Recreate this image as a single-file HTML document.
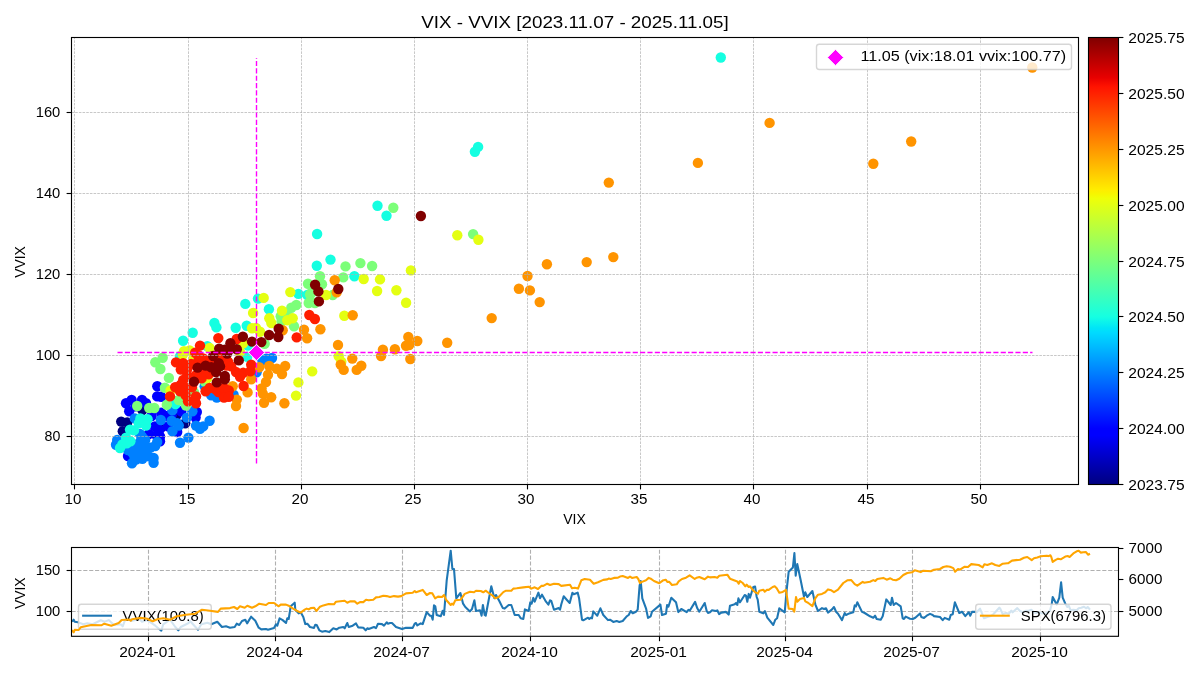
<!DOCTYPE html>
<html><head><meta charset="utf-8"><title>VIX - VVIX</title>
<style>html,body{margin:0;padding:0;background:#fff;overflow:hidden}svg{display:block;will-change:transform}text{font-family:"Liberation Sans", sans-serif;white-space:pre}</style>
</head><body>
<svg width="1200" height="675" viewBox="0 0 1200 675">
<rect width="1200" height="675" fill="#fff"/>
<defs><linearGradient id="jet" x1="0" y1="1" x2="0" y2="0">
<stop offset="0" stop-color="#000080"/>
<stop offset="0.11" stop-color="#0000ff"/>
<stop offset="0.125" stop-color="#0000ff"/>
<stop offset="0.34" stop-color="#00dbff"/>
<stop offset="0.35" stop-color="#00e5f7"/>
<stop offset="0.375" stop-color="#15ffe2"/>
<stop offset="0.64" stop-color="#efff08"/>
<stop offset="0.65" stop-color="#f7f600"/>
<stop offset="0.66" stop-color="#ffec00"/>
<stop offset="0.89" stop-color="#ff1300"/>
<stop offset="0.91" stop-color="#e80000"/>
<stop offset="1.0" stop-color="#800000"/>
</linearGradient>
<clipPath id="cm"><rect x="71.5" y="37.5" width="1007.0" height="447.0"/></clipPath>
<clipPath id="cb"><rect x="71.5" y="547.5" width="1047.0" height="88.79999999999995"/></clipPath>
</defs>
<g clip-path="url(#cm)">
<g fill="#000080">
<circle cx="121.2" cy="421.6" r="5.2"/><circle cx="127.2" cy="422.4" r="5.2"/><circle cx="122.8" cy="431.2" r="5.2"/><circle cx="185.2" cy="423.2" r="5.2"/><circle cx="161.2" cy="427.2" r="5.2"/><circle cx="176.4" cy="415.2" r="5.2"/><circle cx="142.4" cy="410.0" r="5.2"/>
</g>
<g fill="#0000ff">
<circle cx="157.3" cy="386.3" r="5.2"/><circle cx="126.0" cy="403.2" r="5.2"/><circle cx="131.6" cy="400.0" r="5.2"/><circle cx="142.0" cy="400.0" r="5.2"/><circle cx="146.0" cy="403.2" r="5.2"/><circle cx="129.2" cy="411.2" r="5.2"/><circle cx="157.2" cy="396.4" r="5.2"/><circle cx="161.2" cy="396.8" r="5.2"/><circle cx="161.2" cy="412.8" r="5.2"/><circle cx="166.0" cy="416.0" r="5.2"/><circle cx="181.2" cy="411.2" r="5.2"/><circle cx="196.8" cy="412.0" r="5.2"/><circle cx="195.6" cy="417.6" r="5.2"/><circle cx="154.8" cy="426.4" r="5.2"/><circle cx="159.6" cy="429.6" r="5.2"/><circle cx="156.4" cy="435.2" r="5.2"/><circle cx="177.2" cy="432.0" r="5.2"/><circle cx="171.6" cy="415.2" r="5.2"/><circle cx="135.6" cy="406.4" r="5.2"/><circle cx="151.6" cy="416.0" r="5.2"/><circle cx="168.0" cy="426.4" r="5.2"/><circle cx="160.0" cy="441.2" r="5.2"/><circle cx="128.0" cy="456.0" r="5.2"/><circle cx="160.0" cy="436.4" r="5.2"/><circle cx="148.8" cy="434.0" r="5.2"/>
</g>
<g fill="#0080ff">
<circle cx="204.7" cy="386.3" r="5.2"/><circle cx="172.4" cy="410.4" r="5.2"/><circle cx="192.4" cy="411.2" r="5.2"/><circle cx="186.8" cy="417.6" r="5.2"/><circle cx="160.8" cy="420.0" r="5.2"/><circle cx="171.6" cy="420.8" r="5.2"/><circle cx="177.2" cy="423.2" r="5.2"/><circle cx="178.8" cy="425.6" r="5.2"/><circle cx="172.4" cy="431.2" r="5.2"/><circle cx="196.0" cy="425.6" r="5.2"/><circle cx="188.4" cy="437.6" r="5.2"/><circle cx="134.8" cy="418.4" r="5.2"/><circle cx="142.0" cy="436.8" r="5.2"/><circle cx="145.2" cy="440.0" r="5.2"/><circle cx="117.2" cy="440.0" r="5.2"/><circle cx="157.2" cy="442.0" r="5.2"/><circle cx="155.2" cy="446.0" r="5.2"/><circle cx="116.0" cy="444.8" r="5.2"/><circle cx="132.0" cy="463.2" r="5.2"/><circle cx="153.6" cy="462.8" r="5.2"/><circle cx="153.6" cy="458.0" r="5.2"/><circle cx="142.4" cy="458.8" r="5.2"/><circle cx="136.0" cy="459.6" r="5.2"/><circle cx="140.0" cy="442.0" r="5.2"/><circle cx="144.0" cy="446.8" r="5.2"/><circle cx="137.6" cy="450.0" r="5.2"/><circle cx="145.6" cy="452.4" r="5.2"/><circle cx="132.0" cy="452.4" r="5.2"/><circle cx="128.0" cy="450.0" r="5.2"/><circle cx="148.8" cy="456.4" r="5.2"/><circle cx="140.0" cy="454.8" r="5.2"/><circle cx="134.4" cy="456.4" r="5.2"/><circle cx="140.0" cy="434.0" r="5.2"/><circle cx="180.0" cy="442.8" r="5.2"/><circle cx="150.4" cy="447.6" r="5.2"/><circle cx="133.6" cy="445.6" r="5.2"/><circle cx="211.2" cy="395.2" r="5.2"/><circle cx="216.8" cy="397.6" r="5.2"/><circle cx="233.6" cy="394.8" r="5.2"/><circle cx="209.6" cy="420.8" r="5.2"/><circle cx="203.2" cy="426.4" r="5.2"/><circle cx="200.0" cy="428.8" r="5.2"/><circle cx="266.4" cy="358.8" r="5.2"/><circle cx="272.0" cy="358.0" r="5.2"/><circle cx="262.4" cy="360.4" r="5.2"/><circle cx="256.6" cy="372.2" r="5.2"/>
</g>
<g fill="#15ffe1">
<circle cx="720.8" cy="57.5" r="5.2"/><circle cx="478.1" cy="146.9" r="5.2"/><circle cx="474.9" cy="151.7" r="5.2"/><circle cx="377.5" cy="205.7" r="5.2"/><circle cx="386.5" cy="215.7" r="5.2"/><circle cx="317.1" cy="234.0" r="5.2"/><circle cx="330.5" cy="259.6" r="5.2"/><circle cx="316.8" cy="265.7" r="5.2"/><circle cx="354.4" cy="276.3" r="5.2"/><circle cx="298.4" cy="293.9" r="5.2"/><circle cx="307.3" cy="295.0" r="5.2"/><circle cx="258.0" cy="298.6" r="5.2"/><circle cx="245.3" cy="303.9" r="5.2"/><circle cx="268.9" cy="309.3" r="5.2"/><circle cx="214.4" cy="323.0" r="5.2"/><circle cx="216.4" cy="327.4" r="5.2"/><circle cx="235.7" cy="327.7" r="5.2"/><circle cx="246.7" cy="325.7" r="5.2"/><circle cx="192.7" cy="332.7" r="5.2"/><circle cx="183.1" cy="340.7" r="5.2"/><circle cx="207.3" cy="346.3" r="5.2"/><circle cx="140.4" cy="418.4" r="5.2"/><circle cx="147.6" cy="419.2" r="5.2"/><circle cx="138.8" cy="423.2" r="5.2"/><circle cx="146.0" cy="425.6" r="5.2"/><circle cx="130.0" cy="429.6" r="5.2"/><circle cx="134.0" cy="430.4" r="5.2"/><circle cx="126.0" cy="437.6" r="5.2"/><circle cx="126.8" cy="443.2" r="5.2"/><circle cx="175.6" cy="404.0" r="5.2"/><circle cx="122.4" cy="444.4" r="5.2"/><circle cx="120.0" cy="448.0" r="5.2"/><circle cx="130.4" cy="441.2" r="5.2"/><circle cx="180.0" cy="356.4" r="5.2"/><circle cx="247.2" cy="356.8" r="5.2"/><circle cx="248.0" cy="345.6" r="5.2"/>
</g>
<g fill="#7cff79">
<circle cx="473.1" cy="234.1" r="5.2"/><circle cx="393.3" cy="207.7" r="5.2"/><circle cx="345.5" cy="266.4" r="5.2"/><circle cx="360.4" cy="263.1" r="5.2"/><circle cx="372.1" cy="266.0" r="5.2"/><circle cx="320.0" cy="276.3" r="5.2"/><circle cx="343.3" cy="277.4" r="5.2"/><circle cx="310.0" cy="294.6" r="5.2"/><circle cx="308.0" cy="283.7" r="5.2"/><circle cx="322.0" cy="284.3" r="5.2"/><circle cx="332.7" cy="295.0" r="5.2"/><circle cx="311.3" cy="293.0" r="5.2"/><circle cx="308.7" cy="303.0" r="5.2"/><circle cx="314.9" cy="303.0" r="5.2"/><circle cx="296.3" cy="305.0" r="5.2"/><circle cx="291.3" cy="307.7" r="5.2"/><circle cx="286.7" cy="313.0" r="5.2"/><circle cx="294.0" cy="326.3" r="5.2"/><circle cx="280.7" cy="316.3" r="5.2"/><circle cx="281.6" cy="321.3" r="5.2"/><circle cx="264.7" cy="343.7" r="5.2"/><circle cx="162.7" cy="357.7" r="5.2"/><circle cx="155.3" cy="362.3" r="5.2"/><circle cx="160.4" cy="369.0" r="5.2"/><circle cx="168.9" cy="377.9" r="5.2"/><circle cx="164.9" cy="387.7" r="5.2"/><circle cx="194.0" cy="392.3" r="5.2"/><circle cx="137.2" cy="406.0" r="5.2"/><circle cx="149.2" cy="408.0" r="5.2"/><circle cx="154.4" cy="408.0" r="5.2"/><circle cx="166.8" cy="404.8" r="5.2"/><circle cx="178.8" cy="400.0" r="5.2"/><circle cx="186.0" cy="405.6" r="5.2"/><circle cx="204.8" cy="381.6" r="5.2"/>
</g>
<g fill="#e4ff12">
<circle cx="457.3" cy="235.2" r="5.2"/><circle cx="478.4" cy="239.7" r="5.2"/><circle cx="410.9" cy="270.4" r="5.2"/><circle cx="363.7" cy="279.0" r="5.2"/><circle cx="380.0" cy="279.4" r="5.2"/><circle cx="326.0" cy="295.0" r="5.2"/><circle cx="290.3" cy="292.1" r="5.2"/><circle cx="377.1" cy="291.0" r="5.2"/><circle cx="396.4" cy="290.3" r="5.2"/><circle cx="406.1" cy="302.7" r="5.2"/><circle cx="282.0" cy="310.7" r="5.2"/><circle cx="292.7" cy="318.3" r="5.2"/><circle cx="287.3" cy="320.3" r="5.2"/><circle cx="344.3" cy="315.7" r="5.2"/><circle cx="338.7" cy="356.3" r="5.2"/><circle cx="341.3" cy="361.7" r="5.2"/><circle cx="263.7" cy="297.9" r="5.2"/><circle cx="256.0" cy="327.9" r="5.2"/><circle cx="253.1" cy="313.0" r="5.2"/><circle cx="269.3" cy="318.3" r="5.2"/><circle cx="271.3" cy="323.0" r="5.2"/><circle cx="252.0" cy="328.3" r="5.2"/><circle cx="260.0" cy="331.7" r="5.2"/><circle cx="184.0" cy="351.2" r="5.2"/><circle cx="182.8" cy="354.8" r="5.2"/><circle cx="189.6" cy="350.4" r="5.2"/><circle cx="209.6" cy="348.0" r="5.2"/><circle cx="193.6" cy="358.4" r="5.2"/><circle cx="212.0" cy="361.6" r="5.2"/><circle cx="243.2" cy="343.2" r="5.2"/><circle cx="240.0" cy="352.0" r="5.2"/><circle cx="207.2" cy="378.4" r="5.2"/><circle cx="170.5" cy="390.5" r="5.2"/><circle cx="312.2" cy="371.4" r="5.2"/><circle cx="298.4" cy="382.4" r="5.2"/><circle cx="296.0" cy="395.6" r="5.2"/>
</g>
<g fill="#ff9400">
<circle cx="608.8" cy="182.6" r="5.2"/><circle cx="697.9" cy="162.9" r="5.2"/><circle cx="769.6" cy="122.9" r="5.2"/><circle cx="873.3" cy="163.7" r="5.2"/><circle cx="911.2" cy="141.5" r="5.2"/><circle cx="1032.3" cy="67.5" r="5.2"/><circle cx="546.9" cy="264.3" r="5.2"/><circle cx="586.7" cy="262.1" r="5.2"/><circle cx="613.3" cy="257.1" r="5.2"/><circle cx="527.5" cy="276.0" r="5.2"/><circle cx="518.9" cy="288.8" r="5.2"/><circle cx="529.9" cy="290.4" r="5.2"/><circle cx="539.7" cy="302.1" r="5.2"/><circle cx="491.7" cy="318.1" r="5.2"/><circle cx="447.2" cy="342.7" r="5.2"/><circle cx="334.7" cy="280.3" r="5.2"/><circle cx="336.7" cy="292.3" r="5.2"/><circle cx="352.7" cy="315.3" r="5.2"/><circle cx="304.0" cy="329.7" r="5.2"/><circle cx="320.4" cy="329.3" r="5.2"/><circle cx="307.1" cy="338.3" r="5.2"/><circle cx="282.7" cy="330.3" r="5.2"/><circle cx="338.0" cy="345.0" r="5.2"/><circle cx="408.3" cy="337.0" r="5.2"/><circle cx="417.3" cy="341.0" r="5.2"/><circle cx="406.0" cy="345.7" r="5.2"/><circle cx="409.1" cy="345.0" r="5.2"/><circle cx="382.9" cy="349.7" r="5.2"/><circle cx="394.9" cy="349.3" r="5.2"/><circle cx="340.7" cy="364.6" r="5.2"/><circle cx="343.7" cy="369.9" r="5.2"/><circle cx="352.3" cy="358.6" r="5.2"/><circle cx="361.3" cy="365.7" r="5.2"/><circle cx="356.7" cy="369.9" r="5.2"/><circle cx="381.1" cy="356.1" r="5.2"/><circle cx="410.3" cy="359.0" r="5.2"/><circle cx="232.7" cy="386.3" r="5.2"/><circle cx="236.8" cy="399.6" r="5.2"/><circle cx="236.0" cy="406.0" r="5.2"/><circle cx="243.6" cy="428.0" r="5.2"/><circle cx="259.2" cy="367.2" r="5.2"/><circle cx="269.2" cy="366.0" r="5.2"/><circle cx="276.8" cy="368.8" r="5.2"/><circle cx="285.2" cy="366.0" r="5.2"/><circle cx="282.0" cy="374.0" r="5.2"/><circle cx="268.0" cy="374.8" r="5.2"/><circle cx="266.0" cy="382.0" r="5.2"/><circle cx="261.6" cy="388.4" r="5.2"/><circle cx="262.8" cy="393.6" r="5.2"/><circle cx="271.2" cy="397.2" r="5.2"/><circle cx="264.0" cy="402.8" r="5.2"/><circle cx="284.4" cy="403.2" r="5.2"/><circle cx="251.2" cy="379.2" r="5.2"/><circle cx="247.6" cy="392.4" r="5.2"/>
</g>
<g fill="#ff1e00">
<circle cx="309.3" cy="315.0" r="5.2"/><circle cx="314.9" cy="319.0" r="5.2"/><circle cx="296.7" cy="337.4" r="5.2"/><circle cx="218.3" cy="338.1" r="5.2"/><circle cx="236.7" cy="339.0" r="5.2"/><circle cx="200.0" cy="345.6" r="5.2"/><circle cx="195.2" cy="352.8" r="5.2"/><circle cx="176.0" cy="362.4" r="5.2"/><circle cx="183.2" cy="363.2" r="5.2"/><circle cx="180.8" cy="369.6" r="5.2"/><circle cx="191.2" cy="364.0" r="5.2"/><circle cx="187.2" cy="375.2" r="5.2"/><circle cx="183.2" cy="380.0" r="5.2"/><circle cx="180.8" cy="388.0" r="5.2"/><circle cx="203.2" cy="358.4" r="5.2"/><circle cx="198.4" cy="355.2" r="5.2"/><circle cx="228.0" cy="361.6" r="5.2"/><circle cx="226.4" cy="365.6" r="5.2"/><circle cx="196.0" cy="375.2" r="5.2"/><circle cx="208.8" cy="374.4" r="5.2"/><circle cx="204.8" cy="372.0" r="5.2"/><circle cx="236.0" cy="372.0" r="5.2"/><circle cx="243.2" cy="372.8" r="5.2"/><circle cx="250.4" cy="371.2" r="5.2"/><circle cx="251.2" cy="364.8" r="5.2"/><circle cx="240.0" cy="376.8" r="5.2"/><circle cx="243.6" cy="386.0" r="5.2"/><circle cx="216.0" cy="389.6" r="5.2"/><circle cx="187.2" cy="369.2" r="5.2"/><circle cx="221.6" cy="356.0" r="5.2"/><circle cx="231.2" cy="366.4" r="5.2"/><circle cx="211.2" cy="360.0" r="5.2"/><circle cx="198.4" cy="360.8" r="5.2"/><circle cx="201.6" cy="378.4" r="5.2"/><circle cx="170.0" cy="396.4" r="5.2"/><circle cx="175.2" cy="387.2" r="5.2"/><circle cx="180.8" cy="384.8" r="5.2"/><circle cx="186.4" cy="388.0" r="5.2"/><circle cx="185.6" cy="395.2" r="5.2"/><circle cx="188.0" cy="401.2" r="5.2"/><circle cx="196.0" cy="396.4" r="5.2"/><circle cx="196.0" cy="403.2" r="5.2"/><circle cx="205.6" cy="391.2" r="5.2"/><circle cx="209.6" cy="388.0" r="5.2"/><circle cx="218.4" cy="392.0" r="5.2"/><circle cx="224.0" cy="388.0" r="5.2"/><circle cx="228.8" cy="390.4" r="5.2"/><circle cx="224.0" cy="397.6" r="5.2"/><circle cx="228.8" cy="396.8" r="5.2"/><circle cx="192.0" cy="387.2" r="5.2"/><circle cx="180.0" cy="391.2" r="5.2"/>
</g>
<g fill="#800000">
<circle cx="420.9" cy="216.0" r="5.2"/><circle cx="315.1" cy="284.7" r="5.2"/><circle cx="318.4" cy="291.4" r="5.2"/><circle cx="338.3" cy="289.0" r="5.2"/><circle cx="318.9" cy="301.4" r="5.2"/><circle cx="242.9" cy="336.7" r="5.2"/><circle cx="261.3" cy="342.1" r="5.2"/><circle cx="269.1" cy="335.0" r="5.2"/><circle cx="278.7" cy="328.7" r="5.2"/><circle cx="278.3" cy="337.0" r="5.2"/><circle cx="219.2" cy="348.8" r="5.2"/><circle cx="224.8" cy="349.6" r="5.2"/><circle cx="230.4" cy="343.2" r="5.2"/><circle cx="236.8" cy="349.2" r="5.2"/><circle cx="252.0" cy="341.6" r="5.2"/><circle cx="213.2" cy="356.0" r="5.2"/><circle cx="227.2" cy="353.6" r="5.2"/><circle cx="238.8" cy="360.4" r="5.2"/><circle cx="218.8" cy="363.2" r="5.2"/><circle cx="205.6" cy="365.6" r="5.2"/><circle cx="197.6" cy="367.6" r="5.2"/><circle cx="220.0" cy="366.4" r="5.2"/><circle cx="216.0" cy="372.0" r="5.2"/><circle cx="224.8" cy="376.0" r="5.2"/><circle cx="224.8" cy="379.2" r="5.2"/><circle cx="216.8" cy="382.4" r="5.2"/><circle cx="194.0" cy="381.6" r="5.2"/><circle cx="211.2" cy="367.2" r="5.2"/><circle cx="230.4" cy="348.8" r="5.2"/>
</g>
</g>
<g stroke="#b0b0b0" stroke-width="0.7" stroke-dasharray="2.57 1.11" fill="none">
<line x1="74.5" y1="484.5" x2="74.5" y2="37.5"/>
<line x1="188.5" y1="484.5" x2="188.5" y2="37.5"/>
<line x1="301.5" y1="484.5" x2="301.5" y2="37.5"/>
<line x1="414.5" y1="484.5" x2="414.5" y2="37.5"/>
<line x1="527.5" y1="484.5" x2="527.5" y2="37.5"/>
<line x1="640.5" y1="484.5" x2="640.5" y2="37.5"/>
<line x1="753.5" y1="484.5" x2="753.5" y2="37.5"/>
<line x1="867.5" y1="484.5" x2="867.5" y2="37.5"/>
<line x1="980.5" y1="484.5" x2="980.5" y2="37.5"/>
<line x1="71.5" y1="436.5" x2="1078.5" y2="436.5"/>
<line x1="71.5" y1="355.5" x2="1078.5" y2="355.5"/>
<line x1="71.5" y1="274.5" x2="1078.5" y2="274.5"/>
<line x1="71.5" y1="193.5" x2="1078.5" y2="193.5"/>
<line x1="71.5" y1="112.5" x2="1078.5" y2="112.5"/>
</g>
<g stroke="#ff00ff" stroke-width="1.39" stroke-dasharray="5.14 2.22" fill="none">
<line x1="117.5" y1="352.5" x2="1032.5" y2="352.5"/>
<line x1="256.5" y1="463.5" x2="256.5" y2="58"/>
</g>
<path d="M256.5 344.3L264.7 352.5L256.5 360.7L248.3 352.5Z" fill="#ff00ff" stroke="#fff" stroke-width="1"/>
<g stroke="#000" stroke-width="1.11" fill="none">
<line x1="74.5" y1="484.5" x2="74.5" y2="489.4"/>
<line x1="188.5" y1="484.5" x2="188.5" y2="489.4"/>
<line x1="301.5" y1="484.5" x2="301.5" y2="489.4"/>
<line x1="414.5" y1="484.5" x2="414.5" y2="489.4"/>
<line x1="527.5" y1="484.5" x2="527.5" y2="489.4"/>
<line x1="640.5" y1="484.5" x2="640.5" y2="489.4"/>
<line x1="753.5" y1="484.5" x2="753.5" y2="489.4"/>
<line x1="867.5" y1="484.5" x2="867.5" y2="489.4"/>
<line x1="980.5" y1="484.5" x2="980.5" y2="489.4"/>
<line x1="71.5" y1="436.5" x2="66.6" y2="436.5"/>
<line x1="71.5" y1="355.5" x2="66.6" y2="355.5"/>
<line x1="71.5" y1="274.5" x2="66.6" y2="274.5"/>
<line x1="71.5" y1="193.5" x2="66.6" y2="193.5"/>
<line x1="71.5" y1="112.5" x2="66.6" y2="112.5"/>
<rect x="71.5" y="37.5" width="1007.0" height="447.0"/>
</g>
<text x="73.00" y="504.30" font-size="14.1" text-anchor="middle" fill="#000" textLength="16.9" lengthAdjust="spacingAndGlyphs">10</text>
<text x="187.00" y="504.30" font-size="14.1" text-anchor="middle" fill="#000" textLength="16.9" lengthAdjust="spacingAndGlyphs">15</text>
<text x="300.00" y="504.30" font-size="14.1" text-anchor="middle" fill="#000" textLength="16.9" lengthAdjust="spacingAndGlyphs">20</text>
<text x="413.00" y="504.30" font-size="14.1" text-anchor="middle" fill="#000" textLength="16.9" lengthAdjust="spacingAndGlyphs">25</text>
<text x="526.00" y="504.30" font-size="14.1" text-anchor="middle" fill="#000" textLength="16.9" lengthAdjust="spacingAndGlyphs">30</text>
<text x="639.00" y="504.30" font-size="14.1" text-anchor="middle" fill="#000" textLength="16.9" lengthAdjust="spacingAndGlyphs">35</text>
<text x="752.00" y="504.30" font-size="14.1" text-anchor="middle" fill="#000" textLength="16.9" lengthAdjust="spacingAndGlyphs">40</text>
<text x="866.00" y="504.30" font-size="14.1" text-anchor="middle" fill="#000" textLength="16.9" lengthAdjust="spacingAndGlyphs">45</text>
<text x="979.00" y="504.30" font-size="14.1" text-anchor="middle" fill="#000" textLength="16.9" lengthAdjust="spacingAndGlyphs">50</text>
<text x="60.30" y="441.40" font-size="14.1" text-anchor="end" fill="#000" textLength="15.8" lengthAdjust="spacingAndGlyphs">80</text>
<text x="60.30" y="360.40" font-size="14.1" text-anchor="end" fill="#000" textLength="24.6" lengthAdjust="spacingAndGlyphs">100</text>
<text x="60.30" y="279.40" font-size="14.1" text-anchor="end" fill="#000" textLength="24.6" lengthAdjust="spacingAndGlyphs">120</text>
<text x="60.30" y="198.40" font-size="14.1" text-anchor="end" fill="#000" textLength="24.6" lengthAdjust="spacingAndGlyphs">140</text>
<text x="60.30" y="117.40" font-size="14.1" text-anchor="end" fill="#000" textLength="24.6" lengthAdjust="spacingAndGlyphs">160</text>
<text x="574.50" y="524.30" font-size="14.1" text-anchor="middle" fill="#000" textLength="22.6" lengthAdjust="spacingAndGlyphs">VIX</text>
<text x="25.40" y="262.00" font-size="14.1" text-anchor="middle" fill="#000" textLength="31.5" lengthAdjust="spacingAndGlyphs" transform="rotate(-90 25.40 262.00)">VVIX</text>
<text x="575.00" y="28.40" font-size="17" text-anchor="middle" fill="#000" textLength="307.5" lengthAdjust="spacingAndGlyphs">VIX - VVIX [2023.11.07 - 2025.11.05]</text>
<rect x="816.5" y="44.3" width="255" height="25.2" rx="2.8" fill="#fff" fill-opacity="0.8" stroke="#ccc" stroke-opacity="0.8" stroke-width="1.39"/>
<path d="M835.5 49.3L843.7 57.5L835.5 65.7L827.3 57.5Z" fill="#ff00ff" stroke="#fff" stroke-width="1"/>
<text x="860.40" y="61.10" font-size="14.1" text-anchor="start" fill="#000" textLength="205.8" lengthAdjust="spacingAndGlyphs">11.05 (vix:18.01 vvix:100.77)</text>
<rect x="1088.5" y="37.5" width="30.0" height="447.0" fill="url(#jet)" stroke="#000" stroke-width="1.11"/>
<g stroke="#000" stroke-width="1.11">
<line x1="1118.5" y1="484.5" x2="1123.4" y2="484.5"/>
<line x1="1118.5" y1="428.5" x2="1123.4" y2="428.5"/>
<line x1="1118.5" y1="372.5" x2="1123.4" y2="372.5"/>
<line x1="1118.5" y1="316.5" x2="1123.4" y2="316.5"/>
<line x1="1118.5" y1="261.5" x2="1123.4" y2="261.5"/>
<line x1="1118.5" y1="205.5" x2="1123.4" y2="205.5"/>
<line x1="1118.5" y1="149.5" x2="1123.4" y2="149.5"/>
<line x1="1118.5" y1="93.5" x2="1123.4" y2="93.5"/>
<line x1="1118.5" y1="37.5" x2="1123.4" y2="37.5"/>
</g>
<text x="1128.30" y="489.70" font-size="14.1" text-anchor="start" fill="#000" textLength="56.3" lengthAdjust="spacingAndGlyphs">2023.75</text>
<text x="1128.30" y="433.70" font-size="14.1" text-anchor="start" fill="#000" textLength="56.3" lengthAdjust="spacingAndGlyphs">2024.00</text>
<text x="1128.30" y="377.70" font-size="14.1" text-anchor="start" fill="#000" textLength="56.3" lengthAdjust="spacingAndGlyphs">2024.25</text>
<text x="1128.30" y="321.70" font-size="14.1" text-anchor="start" fill="#000" textLength="56.3" lengthAdjust="spacingAndGlyphs">2024.50</text>
<text x="1128.30" y="266.70" font-size="14.1" text-anchor="start" fill="#000" textLength="56.3" lengthAdjust="spacingAndGlyphs">2024.75</text>
<text x="1128.30" y="210.70" font-size="14.1" text-anchor="start" fill="#000" textLength="56.3" lengthAdjust="spacingAndGlyphs">2025.00</text>
<text x="1128.30" y="154.70" font-size="14.1" text-anchor="start" fill="#000" textLength="56.3" lengthAdjust="spacingAndGlyphs">2025.25</text>
<text x="1128.30" y="98.70" font-size="14.1" text-anchor="start" fill="#000" textLength="56.3" lengthAdjust="spacingAndGlyphs">2025.50</text>
<text x="1128.30" y="42.70" font-size="14.1" text-anchor="start" fill="#000" textLength="56.3" lengthAdjust="spacingAndGlyphs">2025.75</text>
<g stroke="#b0b0b0" stroke-width="1.11" stroke-dasharray="4.11 1.78" fill="none">
<line x1="148.5" y1="636.3" x2="148.5" y2="547.5"/>
<line x1="275.5" y1="636.3" x2="275.5" y2="547.5"/>
<line x1="402.5" y1="636.3" x2="402.5" y2="547.5"/>
<line x1="530.5" y1="636.3" x2="530.5" y2="547.5"/>
<line x1="659.5" y1="636.3" x2="659.5" y2="547.5"/>
<line x1="785.5" y1="636.3" x2="785.5" y2="547.5"/>
<line x1="912.5" y1="636.3" x2="912.5" y2="547.5"/>
<line x1="1040.5" y1="636.3" x2="1040.5" y2="547.5"/>
<line x1="71.5" y1="570.5" x2="1118.5" y2="570.5"/>
<line x1="71.5" y1="611.5" x2="1118.5" y2="611.5"/>
</g>
<g clip-path="url(#cb)" fill="none" stroke-linejoin="round" stroke-linecap="butt">
<path d="M72.0 621.7L73.7 619.7L74.7 621.7L78.0 622.3L83.3 624.3L87.3 623.3L92.7 624.3L100.7 620.3L104.7 621.7L108.7 620.1L114.0 625.0L120.7 624.3L122.7 626.3L124.7 621.0L128.7 617.7L131.3 621.0L139.3 619.0L142.0 621.7L147.3 620.1L155.3 625.7L161.3 630.7L163.3 624.3L170.0 619.7L175.3 627.0L178.3 630.3L180.7 627.0L188.7 623.0L190.0 621.0L198.0 629.7L201.3 624.3L207.3 622.7L211.3 624.3L217.3 621.7L222.0 627.0L226.0 626.3L230.0 627.7L234.7 627.0L236.7 623.7L239.3 625.0L242.0 621.0L245.3 619.7L247.1 623.4L251.1 616.7L255.3 620.7L258.7 627.7L261.3 629.4L266.0 629.0L268.0 629.7L274.0 627.9L276.0 624.3L277.3 625.7L279.6 618.3L282.7 620.1L286.0 623.0L287.3 618.3L288.7 619.0L290.7 606.3L294.7 602.7L295.3 609.7L298.7 613.4L300.7 612.3L303.3 617.0L305.3 624.1L307.3 623.7L310.0 627.0L314.0 627.9L315.3 624.7L316.7 625.0L319.3 630.3L322.0 631.7L325.3 631.0L329.3 632.1L333.3 628.3L336.7 629.4L339.3 627.7L343.3 627.0L344.7 628.3L347.3 623.0L348.7 627.0L352.7 625.7L356.0 623.4L358.3 627.4L363.3 627.7L365.7 630.3L367.3 628.3L368.7 629.0L374.0 627.0L376.0 628.1L378.0 623.7L382.0 624.1L384.0 625.7L386.7 622.3L388.0 623.7L390.0 623.0L392.0 623.0L396.0 627.0L402.0 629.0L406.0 627.7L412.7 627.9L414.7 623.7L416.0 623.0L417.3 625.4L420.7 623.4L422.7 624.1L426.7 612.1L430.0 615.7L431.3 615.7L432.7 619.7L434.0 605.4L435.3 606.3L436.7 615.0L440.7 616.3L442.7 610.7L444.0 615.0L446.7 580.3L450.7 550.7L452.4 569.0L454.0 569.0L456.3 598.3L460.4 593.0L463.1 603.7L465.3 607.0L470.0 611.4L472.0 609.0L474.4 600.3L476.0 611.0L480.0 610.3L481.6 615.7L482.9 605.0L484.7 615.0L485.7 615.7L491.3 586.3L494.4 598.3L496.0 595.0L499.3 601.0L502.7 607.9L504.7 608.6L508.7 605.0L511.3 605.0L514.7 615.0L518.7 615.0L520.7 618.3L523.3 619.0L524.9 609.4L528.7 611.0L530.3 602.3L531.6 603.7L533.3 597.9L534.7 601.7L538.4 592.6L540.0 598.3L542.0 594.7L546.0 601.7L548.4 604.6L550.0 600.3L551.3 601.0L554.0 609.7L558.7 608.1L560.0 609.7L561.3 604.3L563.7 596.3L566.7 599.7L569.7 603.0L572.4 592.7L573.7 594.3L577.7 592.7L579.1 598.3L582.0 619.7L583.3 620.3L588.0 617.7L589.3 619.0L590.7 617.7L592.0 618.3L593.3 611.4L597.3 615.7L600.4 608.3L603.3 615.0L608.0 620.1L610.0 619.7L613.3 621.9L616.7 621.0L619.3 621.9L622.7 621.0L626.7 616.3L628.7 615.0L630.7 611.0L632.7 613.3L636.0 611.7L637.7 609.7L639.6 585.7L640.7 581.0L642.3 598.3L646.0 608.3L648.0 617.9L650.7 616.3L652.0 611.7L660.4 604.6L662.0 615.0L666.0 613.7L667.1 605.0L668.4 606.7L671.3 597.7L676.0 602.3L678.3 612.1L681.3 609.0L686.7 612.1L688.4 609.9L689.7 610.7L695.1 601.9L697.3 608.3L699.3 611.7L704.7 603.0L706.7 611.0L708.0 613.0L710.0 612.3L712.0 610.3L716.0 611.0L717.3 610.3L719.1 614.1L721.3 612.6L726.0 611.9L728.7 614.6L730.0 605.7L734.7 604.3L736.0 603.0L737.3 605.0L738.4 598.3L740.0 602.3L744.7 595.0L746.0 595.7L747.3 601.7L748.7 593.9L750.0 597.7L753.3 587.0L755.1 586.6L756.7 597.0L757.7 599.7L759.3 611.7L763.3 613.4L764.9 611.0L767.3 617.7L773.3 625.0L775.3 619.7L777.1 618.3L779.3 608.3L784.7 612.3L786.7 589.7L788.7 571.7L792.9 567.4L794.4 553.0L795.7 575.7L797.3 564.1L800.7 580.3L804.0 596.7L805.3 592.3L807.3 597.0L812.4 591.0L815.3 604.3L818.0 611.0L822.0 608.1L824.0 609.0L826.0 608.3L828.0 612.6L832.0 609.4L834.0 607.0L836.0 611.7L838.0 613.7L842.0 620.1L844.7 613.0L846.0 615.0L849.3 613.4L853.3 612.3L854.7 605.4L856.0 606.3L857.3 602.3L862.0 611.9L864.7 613.0L870.0 616.3L873.3 617.7L875.1 615.7L876.7 619.0L880.7 619.7L882.7 616.3L886.3 599.4L890.7 605.0L892.0 597.7L893.7 605.0L896.0 603.0L900.7 606.3L902.7 618.3L904.0 619.0L905.7 616.6L910.0 618.7L912.7 619.0L915.3 617.7L920.0 613.4L921.3 617.0L924.0 617.9L926.7 615.7L930.0 613.9L932.7 615.0L934.0 616.1L940.0 617.0L942.7 620.1L944.7 617.9L949.3 619.7L950.7 615.0L952.7 614.3L954.9 602.3L959.3 613.0L962.0 611.7L965.3 616.1L968.7 612.3L970.3 615.7L972.0 611.9L975.3 611.9L976.7 612.3L980.0 608.6L984.0 618.3L987.3 617.0L990.0 616.3L993.3 614.3L999.3 607.7L1000.0 608.3L1001.3 611.0L1002.7 614.1L1006.0 613.0L1008.7 613.7L1011.3 610.7L1012.7 612.3L1017.3 608.1L1020.0 611.0L1022.7 612.3L1026.0 610.7L1028.7 610.7L1031.3 609.7L1034.0 612.3L1036.0 613.0L1038.7 612.3L1041.3 613.3L1046.0 613.7L1050.0 610.7L1051.7 604.3L1052.7 597.0L1056.7 604.6L1059.3 597.7L1061.1 582.3L1062.7 597.7L1065.3 603.7L1067.3 607.0L1068.7 605.7L1070.7 610.3L1073.3 609.7L1076.7 610.3L1078.7 608.3L1081.3 607.7L1084.0 606.7L1086.0 608.3L1087.7 607.0L1090.0 609.7" stroke="#1f77b4" stroke-width="2.08"/>
</g>
<rect x="78.5" y="604.2" width="132.8" height="25" rx="2.8" fill="#fff" fill-opacity="0.8" stroke="#ccc" stroke-opacity="0.8" stroke-width="1.39"/>
<line x1="82.1" y1="615.7" x2="112" y2="615.7" stroke="#1f77b4" stroke-width="2.08"/>
<text x="122.50" y="620.60" font-size="14.1" text-anchor="start" fill="#000" textLength="81.2" lengthAdjust="spacingAndGlyphs">VVIX(100.8)</text>
<g clip-path="url(#cb)" fill="none" stroke-linejoin="round">
<path d="M71.5 630.5L72.0 630.5L73.7 632.3L74.7 629.9L78.7 630.0L80.7 627.3L91.3 625.0L101.3 625.3L104.3 623.7L111.3 625.7L118.7 623.0L121.7 620.0L128.7 619.5L130.7 620.7L132.0 619.2L140.7 617.9L147.3 618.7L152.0 621.0L152.7 621.3L158.0 619.0L163.3 618.3L170.0 619.7L176.7 616.3L186.0 614.7L195.3 613.7L202.0 609.7L210.0 610.7L218.0 611.9L220.7 608.6L230.0 608.1L234.0 607.0L237.3 609.0L240.0 606.3L244.7 607.7L247.3 605.7L252.0 607.7L255.3 606.3L259.3 603.7L266.0 605.0L268.7 603.0L274.0 603.0L278.7 606.3L280.7 604.6L286.0 604.6L288.7 605.7L292.7 608.3L296.7 610.7L300.7 612.6L304.7 609.7L306.7 608.6L308.7 609.4L310.7 608.1L314.0 607.7L316.4 611.0L320.0 606.7L323.3 605.4L328.7 604.1L334.0 604.3L336.0 601.7L344.7 600.7L347.3 602.7L350.0 601.4L354.7 601.4L357.3 603.7L360.0 602.1L363.3 602.1L366.0 599.7L368.7 600.3L373.3 599.7L376.0 597.4L379.3 597.0L383.3 595.7L386.7 596.1L390.0 597.0L394.0 596.1L398.0 596.6L401.3 596.1L406.0 593.4L412.7 592.7L414.7 591.0L416.0 592.3L422.7 589.9L426.7 595.0L430.0 593.0L432.4 593.4L435.1 598.3L438.0 596.6L442.0 597.0L444.0 595.0L446.0 599.7L450.7 605.0L452.0 603.7L453.3 604.6L455.3 600.3L460.7 599.7L464.7 593.9L470.0 591.7L474.0 592.3L476.0 590.7L480.7 591.0L483.3 592.3L485.7 590.7L488.7 593.0L492.7 595.7L495.3 598.3L498.7 597.0L503.3 592.1L506.0 590.7L511.3 590.7L513.3 588.6L516.7 588.3L523.3 587.4L528.7 586.7L531.3 588.6L534.7 587.3L538.0 589.0L541.3 585.9L543.3 585.9L547.3 583.7L550.0 585.0L554.0 583.7L558.7 584.1L561.3 585.9L570.0 584.7L572.0 588.3L574.7 587.7L578.0 588.6L581.3 580.3L584.7 579.0L590.0 579.7L593.7 583.7L598.0 582.3L603.3 579.9L607.3 579.4L608.7 578.6L610.7 579.0L614.0 577.9L618.0 577.7L620.0 576.6L622.7 576.1L628.0 577.9L630.0 576.6L632.0 577.9L636.7 577.0L638.3 579.0L640.0 583.0L642.0 581.9L646.0 580.3L648.7 577.9L650.7 578.7L654.0 581.0L659.3 583.3L662.7 580.6L665.7 579.7L667.3 581.9L669.3 581.9L672.0 585.0L676.7 584.3L678.7 581.4L682.0 579.0L686.0 577.7L689.7 575.3L694.7 579.0L696.7 577.7L699.3 577.0L704.7 579.3L708.0 576.6L710.0 577.4L714.7 577.0L717.3 577.7L719.3 575.7L727.3 574.7L730.0 578.7L737.3 581.4L738.7 583.7L740.0 581.0L742.7 583.0L745.3 586.3L746.7 584.7L748.7 587.0L750.0 586.3L752.7 589.9L755.3 592.3L758.0 593.7L759.3 590.7L763.3 589.7L764.7 591.7L766.7 589.9L768.7 589.9L772.7 587.0L774.7 586.3L776.7 588.3L779.3 592.7L782.7 591.9L786.0 589.9L788.7 608.6L792.7 609.0L794.3 611.7L796.0 597.0L797.3 601.7L800.0 599.0L804.0 597.9L805.3 601.4L808.0 602.7L812.4 606.1L815.3 598.3L818.0 594.7L822.0 593.9L825.3 592.3L828.0 589.4L831.3 590.3L834.0 592.1L838.0 589.7L843.3 583.0L847.3 580.3L851.3 580.1L854.7 584.1L857.3 585.7L862.7 581.9L864.0 582.7L870.0 581.7L873.3 580.1L875.3 581.0L877.3 579.0L883.3 577.9L886.7 579.7L890.3 578.3L892.7 579.7L896.0 580.3L899.3 578.7L903.3 575.0L907.3 573.0L912.0 572.3L914.7 570.3L920.7 572.1L923.3 570.7L930.7 571.3L934.0 569.7L940.0 569.0L943.3 567.0L946.7 566.3L950.0 566.7L953.3 568.1L955.1 571.7L958.0 569.0L960.0 569.7L964.7 566.7L968.0 567.0L971.3 564.1L978.7 565.0L982.7 567.3L984.4 564.3L987.3 565.0L992.0 563.3L995.3 565.0L999.3 565.9L1002.7 563.7L1007.3 563.3L1008.0 563.3L1012.0 560.6L1016.0 560.1L1020.0 559.7L1024.0 557.7L1027.3 557.0L1031.7 560.1L1034.0 558.3L1037.3 557.4L1040.7 556.3L1046.7 555.7L1048.7 556.1L1050.4 555.3L1051.3 557.0L1052.7 561.9L1055.3 560.1L1058.0 558.7L1060.7 559.3L1065.3 556.6L1068.0 556.1L1069.6 557.0L1073.3 553.4L1076.7 551.3L1078.7 550.7L1080.7 552.6L1083.3 552.3L1086.0 552.1L1088.0 554.7L1090.0 553.7" stroke="#ffa500" stroke-width="2.08"/>
</g>
<rect x="975.7" y="604.2" width="135.3" height="25" rx="2.8" fill="#fff" fill-opacity="0.8" stroke="#ccc" stroke-opacity="0.8" stroke-width="1.39"/>
<line x1="979.9" y1="615.7" x2="1009.8" y2="615.7" stroke="#ffa500" stroke-width="2.08"/>
<text x="1020.80" y="620.60" font-size="14.1" text-anchor="start" fill="#000" textLength="85.2" lengthAdjust="spacingAndGlyphs">SPX(6796.3)</text>
<g stroke="#000" stroke-width="1.11" fill="none">
<line x1="148.5" y1="636.3" x2="148.5" y2="641.1999999999999"/>
<line x1="275.5" y1="636.3" x2="275.5" y2="641.1999999999999"/>
<line x1="402.5" y1="636.3" x2="402.5" y2="641.1999999999999"/>
<line x1="530.5" y1="636.3" x2="530.5" y2="641.1999999999999"/>
<line x1="659.5" y1="636.3" x2="659.5" y2="641.1999999999999"/>
<line x1="785.5" y1="636.3" x2="785.5" y2="641.1999999999999"/>
<line x1="912.5" y1="636.3" x2="912.5" y2="641.1999999999999"/>
<line x1="1040.5" y1="636.3" x2="1040.5" y2="641.1999999999999"/>
<line x1="71.5" y1="570.5" x2="66.6" y2="570.5"/>
<line x1="71.5" y1="611.5" x2="66.6" y2="611.5"/>
<line x1="1118.5" y1="548.5" x2="1123.4" y2="548.5"/>
<line x1="1118.5" y1="579.5" x2="1123.4" y2="579.5"/>
<line x1="1118.5" y1="611.5" x2="1123.4" y2="611.5"/>
<rect x="71.5" y="547.5" width="1047.0" height="88.79999999999995"/>
</g>
<text x="147.60" y="657.20" font-size="14.1" text-anchor="middle" fill="#000" textLength="56.8" lengthAdjust="spacingAndGlyphs">2024-01</text>
<text x="274.60" y="657.20" font-size="14.1" text-anchor="middle" fill="#000" textLength="56.8" lengthAdjust="spacingAndGlyphs">2024-04</text>
<text x="401.60" y="657.20" font-size="14.1" text-anchor="middle" fill="#000" textLength="56.8" lengthAdjust="spacingAndGlyphs">2024-07</text>
<text x="529.60" y="657.20" font-size="14.1" text-anchor="middle" fill="#000" textLength="56.8" lengthAdjust="spacingAndGlyphs">2024-10</text>
<text x="658.60" y="657.20" font-size="14.1" text-anchor="middle" fill="#000" textLength="56.8" lengthAdjust="spacingAndGlyphs">2025-01</text>
<text x="784.60" y="657.20" font-size="14.1" text-anchor="middle" fill="#000" textLength="56.8" lengthAdjust="spacingAndGlyphs">2025-04</text>
<text x="911.60" y="657.20" font-size="14.1" text-anchor="middle" fill="#000" textLength="56.8" lengthAdjust="spacingAndGlyphs">2025-07</text>
<text x="1039.60" y="657.20" font-size="14.1" text-anchor="middle" fill="#000" textLength="56.8" lengthAdjust="spacingAndGlyphs">2025-10</text>
<text x="60.30" y="575.10" font-size="14.1" text-anchor="end" fill="#000" textLength="24.6" lengthAdjust="spacingAndGlyphs">150</text>
<text x="60.30" y="616.10" font-size="14.1" text-anchor="end" fill="#000" textLength="24.6" lengthAdjust="spacingAndGlyphs">100</text>
<text x="1128.60" y="553.30" font-size="14.1" text-anchor="start" fill="#000" textLength="33.8" lengthAdjust="spacingAndGlyphs">7000</text>
<text x="1128.60" y="584.30" font-size="14.1" text-anchor="start" fill="#000" textLength="33.8" lengthAdjust="spacingAndGlyphs">6000</text>
<text x="1128.60" y="616.30" font-size="14.1" text-anchor="start" fill="#000" textLength="33.8" lengthAdjust="spacingAndGlyphs">5000</text>
<text x="25.40" y="593.20" font-size="14.1" text-anchor="middle" fill="#000" textLength="31.5" lengthAdjust="spacingAndGlyphs" transform="rotate(-90 25.40 593.20)">VVIX</text>
</svg></body></html>
